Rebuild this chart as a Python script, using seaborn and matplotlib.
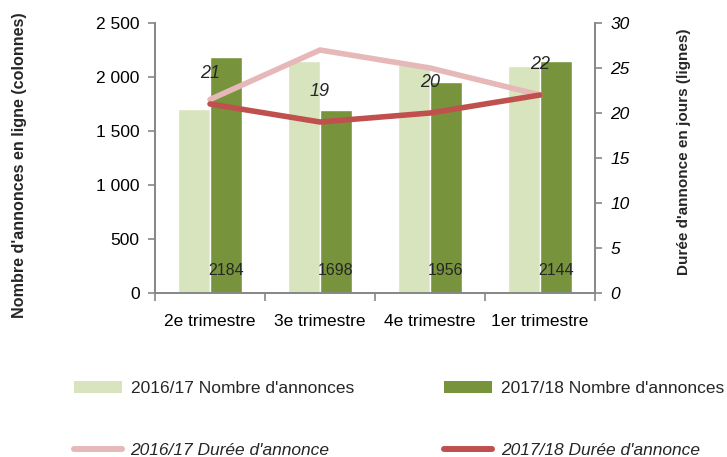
import numpy as np
import pandas as pd
import matplotlib
matplotlib.use("Agg")
import matplotlib.pyplot as plt
import seaborn as sns
from matplotlib.patches import Patch
from matplotlib.lines import Line2D
from matplotlib.ticker import FuncFormatter, MultipleLocator, FixedLocator

categories = ["2e trimestre", "3e trimestre", "4e trimestre", "1er trimestre"]
annonces_1617 = [1700, 2150, 2120, 2100]
annonces_1718 = [2184, 1698, 1956, 2144]
duree_1617 = [21.5, 27, 25, 22]
duree_1718 = [21, 19, 20, 22]
series_bars = ["2016/17 Nombre d'annonces", "2017/18 Nombre d'annonces"]
series_lines = ["2016/17 Durée d'annonce", "2017/18 Durée d'annonce"]

c_light = "#D7E4BD"
c_dark = "#77933C"
c_pink = "#E6B9B8"
c_red = "#C0504D"
c_axis = "#868686"

sns.set_theme(style="white")
plt.rcParams["font.family"] = ["Liberation Sans", "DejaVu Sans"]

df = pd.DataFrame({
    "cat": categories * 2,
    "val": annonces_1617 + annonces_1718,
    "serie": [series_bars[0]] * 4 + [series_bars[1]] * 4,
})

fig = plt.figure(figsize=(7.27, 4.57), dpi=100)
ax = fig.add_axes([155 / 727, 1 - 293 / 457, 440 / 727, 270 / 457])

sns.barplot(data=df, x="cat", y="val", hue="serie", order=categories,
            hue_order=series_bars, palette=[c_light, c_dark], width=0.575,
            gap=0, saturation=1, ax=ax, legend=False, errorbar=None)
ax.set_xlim(-0.5, len(categories) - 0.5)
ax.set_ylim(0, 2500)
ax.yaxis.set_major_locator(MultipleLocator(500))
ax.yaxis.set_major_formatter(FuncFormatter(lambda v, p: f"{int(v):,}".replace(",", " ")))
ax.set_xlabel("")
ax.set_ylabel("Nombre d'annonces en ligne (colonnes)", fontsize=11.6, fontweight="bold")
ax.yaxis.set_label_coords((27 - 155) / 440, (293 - 165) / 270)

ax.spines["top"].set_visible(False)
for s in ["left", "right", "bottom"]:
    ax.spines[s].set_color(c_axis)
    ax.spines[s].set_linewidth(1.2)

ax.tick_params(axis="y", which="major", left=True, length=5, width=1.2, color=c_axis,
               labelsize=12.5, labelcolor="black", pad=6)
ax.tick_params(axis="x", which="major", bottom=False, labelsize=12.5, labelcolor="black", pad=9)
ax.xaxis.set_minor_locator(FixedLocator(np.arange(-0.5, len(categories), 1.0)))
ax.tick_params(axis="x", which="minor", bottom=True, length=6, width=1.2, color=c_axis)

# bar value labels (inside base of the dark bars)
dark_bars = ax.containers[1]
for rect, v in zip(dark_bars, annonces_1718):
    ax.annotate(str(v), (rect.get_x() + rect.get_width() / 2, 0), xytext=(0, 16),
                textcoords="offset points", ha="center", va="center", fontsize=11.5)

ax2 = ax.twinx()
x_pos = np.arange(len(categories))
sns.lineplot(x=x_pos, y=duree_1617, color=c_pink, linewidth=4, ax=ax2,
             solid_capstyle="round")
sns.lineplot(x=x_pos, y=duree_1718, color=c_red, linewidth=4, ax=ax2,
             solid_capstyle="round")
ax2.set_ylim(0, 30)
ax2.yaxis.set_major_locator(MultipleLocator(5))
ax2.spines["top"].set_visible(False)
for s in ["left", "right", "bottom"]:
    ax2.spines[s].set_color(c_axis)
    ax2.spines[s].set_linewidth(1.2)
ax2.tick_params(axis="y", right=True, length=5, width=1.2, color=c_axis,
                labelsize=12.5, labelcolor="black", pad=6)
for lab in ax2.get_yticklabels():
    lab.set_fontstyle("italic")
ax2.set_ylabel("Durée d'annonce en jours (lignes)", fontsize=11, fontweight="bold")
ax2.yaxis.set_label_coords((677 - 155) / 440, (293 - 152) / 270)

for xi, v in zip(x_pos, duree_1718):
    ax2.annotate(str(v), (xi, v), xytext=(0, 22), textcoords="offset points",
                 ha="center", va="center", fontsize=13, fontstyle="italic")

handles = [
    Patch(facecolor=c_light, edgecolor="none"),
    Line2D([0], [0], color=c_pink, linewidth=4.3, solid_capstyle="round"),
    Patch(facecolor=c_dark, edgecolor="none"),
    Line2D([0], [0], color=c_red, linewidth=4.3, solid_capstyle="round"),
]
labels = [series_bars[0], series_lines[0], series_bars[1], series_lines[1]]
leg = fig.legend(handles, labels, ncol=2, loc="upper left",
                 bbox_to_anchor=(74 / 727, 1 - 381 / 457), frameon=False,
                 fontsize=12.5, handlelength=2.76, handletextpad=0.5,
                 columnspacing=5.2, labelspacing=2.68, borderpad=0, borderaxespad=0,
                 handleheight=0.65)
for t in leg.get_texts():
    if "Durée" in t.get_text():
        t.set_fontstyle("italic")

fig.savefig("out.png", dpi=100)
